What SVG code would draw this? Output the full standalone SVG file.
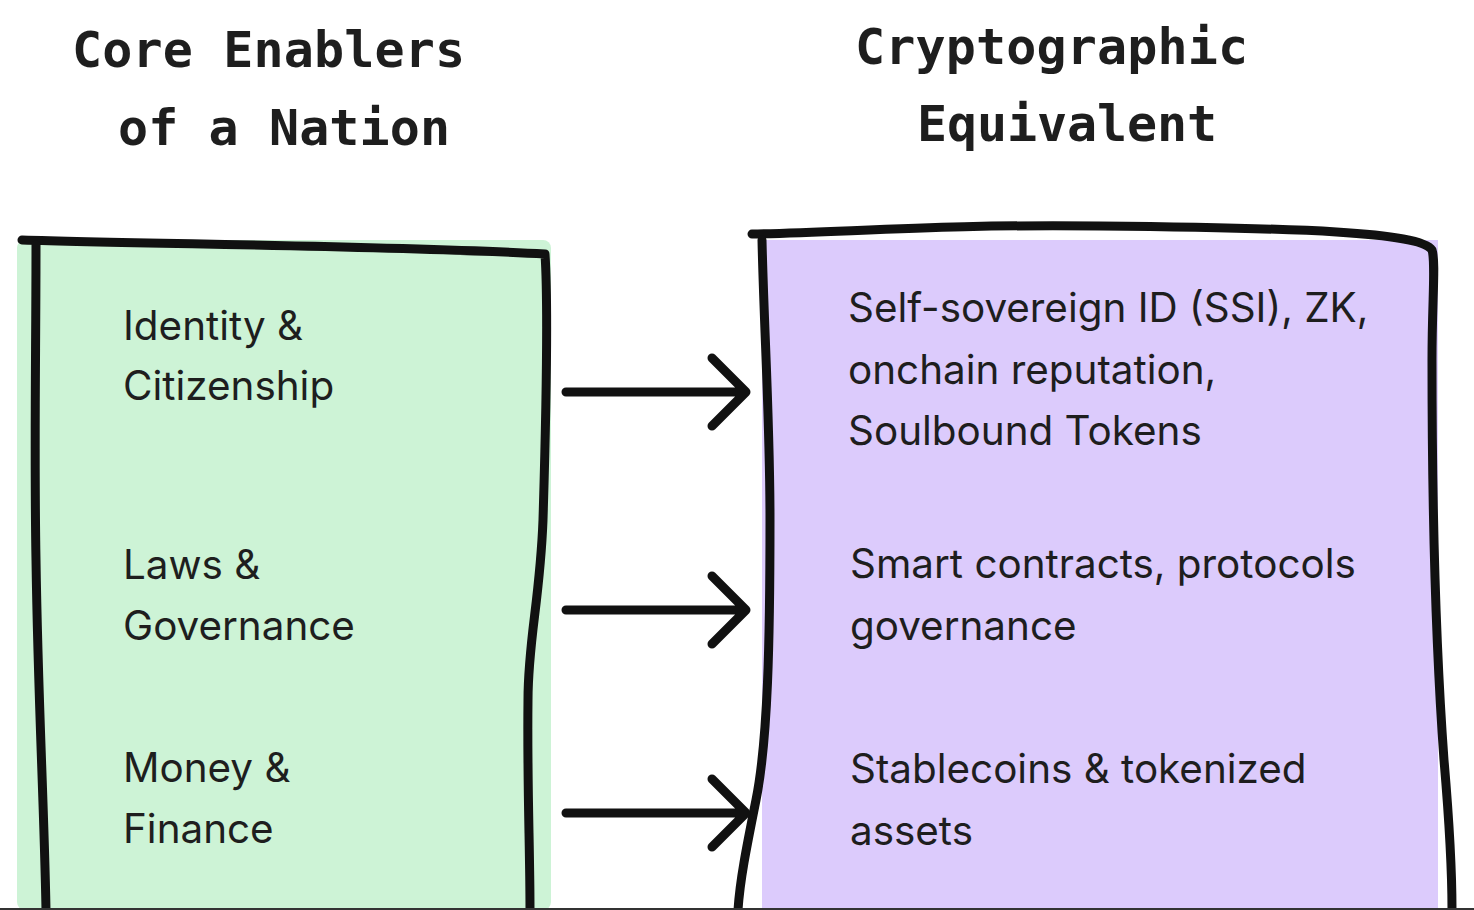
<svg xmlns="http://www.w3.org/2000/svg" width="1474" height="910" viewBox="0 0 1474 910">
<defs>
<style>
.title{font-family:"DejaVu Sans Mono","Liberation Mono",monospace;font-weight:bold;font-size:50px;fill:#1e1e1e}
.body{font-family:Inter,"Noto Sans",sans-serif;font-size:40.4px;fill:#1e1e1e}
.stroke{fill:none;stroke:#111;stroke-width:9;stroke-linecap:round;stroke-linejoin:round}
</style>
</defs>
<rect width="1474" height="910" fill="#fff"/>
<g id="titles">
<text class="title" x="72" y="67" textLength="393">Core Enablers</text>
<text class="title" x="118" y="145" textLength="332">of a Nation</text>
<text class="title" x="855" y="64" textLength="393">Cryptographic</text>
<text class="title" x="917" y="141" textLength="300">Equivalent</text>
</g>
<g id="left-box">
<rect x="17" y="240" width="534" height="670" rx="8" fill="#cdf3d6"/>
<path class="stroke" d="M22,240 C150,244 400,246 545,254 C548,300 546,420 543,520 C540,600 528,640 528,700 C527,780 530,850 530,910"/>
<path class="stroke" d="M36,245 C36,350 34,450 36,560 C38,700 44,800 46,910"/>
<text class="body" x="123" y="340">Identity &amp;</text>
<text class="body" x="123" y="400">Citizenship</text>
<text class="body" x="123" y="579">Laws &amp;</text>
<text class="body" x="123" y="640">Governance</text>
<text class="body" x="123" y="782">Money &amp;</text>
<text class="body" x="123" y="843">Finance</text>
</g>
<g id="right-box">
<rect x="762" y="240" width="676" height="670" fill="#dccbfc"/>
<path class="stroke" d="M752,234 C850,232 950,224 1100,226 C1300,228 1420,232 1432,250 C1436,262 1432,300 1432,360 C1432,500 1436,650 1444,760 C1450,830 1452,880 1452,910"/>
<path class="stroke" d="M762,240 C764,330 770,420 770,520 C770,640 768,740 756,800 C746,850 740,880 738,910"/>
<text class="body" x="848" y="322">Self-sovereign ID (SSI), ZK,</text>
<text class="body" x="848" y="384">onchain reputation,</text>
<text class="body" x="848" y="445">Soulbound Tokens</text>
<text class="body" x="850" y="578">Smart contracts, protocols</text>
<text class="body" x="850" y="640">governance</text>
<text class="body" x="850" y="783">Stablecoins &amp; tokenized</text>
<text class="body" x="850" y="845">assets</text>
</g>
<g id="connectors">
<path class="stroke" d="M566,392 L746,392 M712,358 L746,392 L712,426"/>
<path class="stroke" d="M566,610 L746,610 M712,576 L746,610 L712,644"/>
<path class="stroke" d="M566,813 L746,813 M712,779 L746,813 L712,847"/>
</g>
<rect x="0" y="908" width="1474" height="2" fill="#333"/>
</svg>
